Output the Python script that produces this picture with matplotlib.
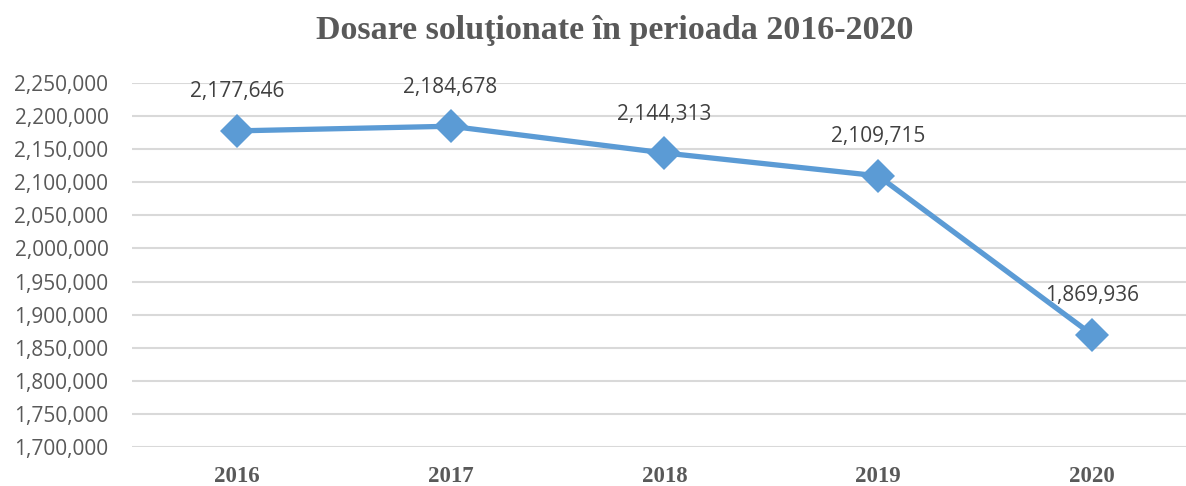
import matplotlib
matplotlib.use("Agg")
import matplotlib.pyplot as plt
from matplotlib.ticker import FuncFormatter, MultipleLocator

years = ["2016", "2017", "2018", "2019", "2020"]
values = [2177646, 2184678, 2144313, 2109715, 1869936]
title = "Dosare soluţionate în perioada 2016-2020"

fig = plt.figure(figsize=(11.86, 4.86), dpi=100)
ax = fig.add_axes([132/1186, 1 - 447/486, (1186-132)/1186, (447-83)/486])

x = list(range(len(years)))
ax.plot(x, values, color="#5B9BD5", lw=3.8, marker="D", markersize=17,
        markeredgewidth=0, solid_capstyle="round", zorder=3)
for xi, v in zip(x, values):
    ax.annotate(f"{v:,}", (xi, v), xytext=(0, 28), textcoords="offset points",
                ha="center", va="center", fontsize=15, color="#404040",
                family="Open Sans")

ax.set_ylim(1700000, 2250000)
ax.set_xlim(-0.49, 4.44)
ax.yaxis.set_major_locator(MultipleLocator(50000))
ax.yaxis.set_major_formatter(FuncFormatter(lambda v, p: f"{int(v):,}"))
ax.grid(axis="y", color="#D9D9D9", lw=1.5)
ax.set_axisbelow(True)
for s in ["top", "right", "left", "bottom"]:
    ax.spines[s].set_visible(False)
ax.set_xticks(x)
ax.set_xticklabels(years, fontsize=16.5, fontweight="bold", family="Liberation Serif",
                   color="#595959")
for lab in ax.get_yticklabels():
    lab.set_family("Open Sans")
    lab.set_fontsize(15)
    lab.set_color("#595959")
ax.tick_params(axis="both", length=0)
ax.tick_params(axis="y", pad=17)
ax.tick_params(axis="x", pad=14)

fig.text(615/1186, 1 - 30/486, title, ha="center", va="center", fontsize=24.5,
         fontweight="bold", family="Liberation Serif", color="#595959")

fig.savefig("out.png", dpi=100)
